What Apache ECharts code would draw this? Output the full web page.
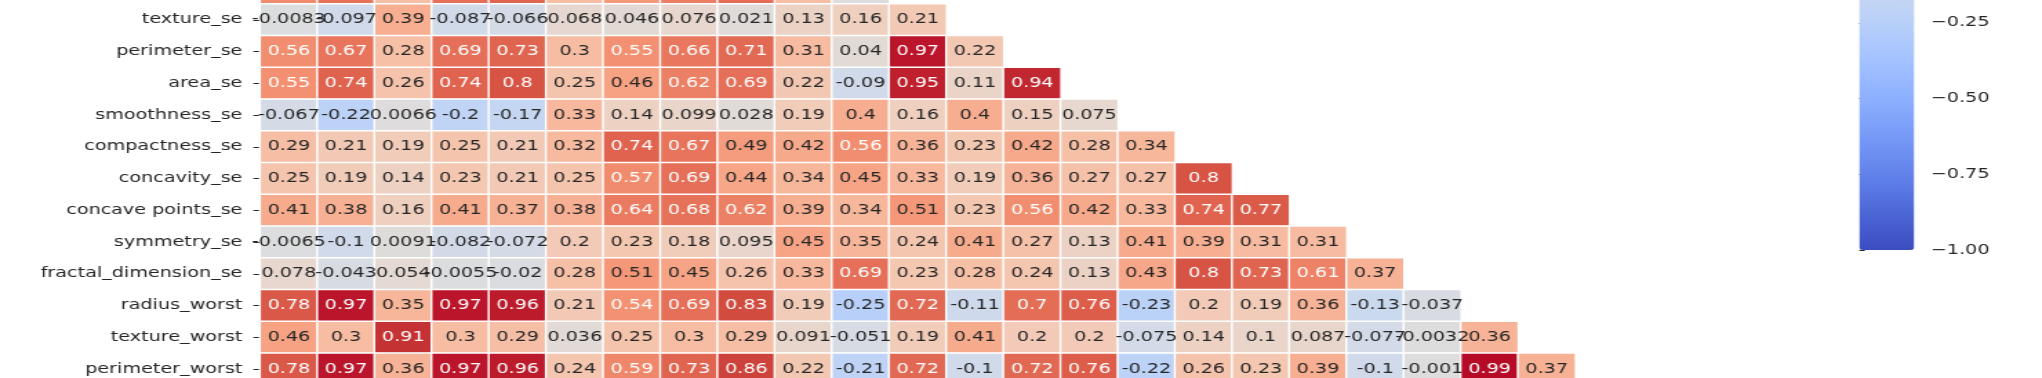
<!DOCTYPE html>
<html>
<head>
<meta charset="utf-8">
<script src="https://cdn.jsdelivr.net/npm/echarts@6/dist/echarts.min.js"></script>
<style>
  html, body { margin: 0; padding: 0; background: #ffffff; overflow: hidden; }
  #wrap { width: 2042px; height: 378px; overflow: hidden; position: relative; }
  #chart { width: 1480px; height: 378px; transform: scaleX(1.3797); transform-origin: 0 0; }
</style>
</head>
<body>
<div id="wrap"><div id="chart"></div></div>
<script>
// ---- data (lower-triangle correlations, '.2g' as printed) ----
const features = ['diagnosis','radius_mean','texture_mean','perimeter_mean','area_mean',
  'smoothness_mean','compactness_mean','concavity_mean','concave points_mean','symmetry_mean',
  'fractal_dimension_mean','radius_se','texture_se','perimeter_se','area_se','smoothness_se',
  'compactness_se','concavity_se','concave points_se','symmetry_se','fractal_dimension_se',
  'radius_worst','texture_worst','perimeter_worst'];
const columns = features.slice(0, 23);
const rowNames = features.slice(11, 24);

const radius_se = [0.57, 0.68, 0.28, 0.69, 0.73, 0.3, 0.5, 0.63, 0.7, 0.3, 0.00011];
const texture_se = [-0.0083, -0.097, 0.39, -0.087, -0.066, 0.068, 0.046, 0.076, 0.021, 0.13, 0.16, 0.21];
const perimeter_se = [0.56, 0.67, 0.28, 0.69, 0.73, 0.3, 0.55, 0.66, 0.71, 0.31, 0.04, 0.97, 0.22];
const area_se = [0.55, 0.74, 0.26, 0.74, 0.8, 0.25, 0.46, 0.62, 0.69, 0.22, -0.09, 0.95, 0.11, 0.94];
const smoothness_se = [-0.067, -0.22, 0.0066, -0.2, -0.17, 0.33, 0.14, 0.099, 0.028, 0.19, 0.4, 0.16, 0.4, 0.15, 0.075];
const compactness_se = [0.29, 0.21, 0.19, 0.25, 0.21, 0.32, 0.74, 0.67, 0.49, 0.42, 0.56, 0.36, 0.23, 0.42, 0.28, 0.34];
const concavity_se = [0.25, 0.19, 0.14, 0.23, 0.21, 0.25, 0.57, 0.69, 0.44, 0.34, 0.45, 0.33, 0.19, 0.36, 0.27, 0.27, 0.8];
const concave_points_se = [0.41, 0.38, 0.16, 0.41, 0.37, 0.38, 0.64, 0.68, 0.62, 0.39, 0.34, 0.51, 0.23, 0.56, 0.42, 0.33, 0.74, 0.77];
const symmetry_se = [-0.0065, -0.1, 0.0091, -0.082, -0.072, 0.2, 0.23, 0.18, 0.095, 0.45, 0.35, 0.24, 0.41, 0.27, 0.13, 0.41, 0.39, 0.31, 0.31];
const fractal_dimension_se = [0.078, -0.043, 0.054, -0.0055, -0.02, 0.28, 0.51, 0.45, 0.26, 0.33, 0.69, 0.23, 0.28, 0.24, 0.13, 0.43, 0.8, 0.73, 0.61, 0.37];
const radius_worst = [0.78, 0.97, 0.35, 0.97, 0.96, 0.21, 0.54, 0.69, 0.83, 0.19, -0.25, 0.72, -0.11, 0.7, 0.76, -0.23, 0.2, 0.19, 0.36, -0.13, -0.037];
const texture_worst = [0.46, 0.3, 0.91, 0.3, 0.29, 0.036, 0.25, 0.3, 0.29, 0.091, -0.051, 0.19, 0.41, 0.2, 0.2, -0.075, 0.14, 0.1, 0.087, -0.077, -0.0032, 0.36];
const perimeter_worst = [0.78, 0.97, 0.36, 0.97, 0.96, 0.24, 0.59, 0.73, 0.86, 0.22, -0.21, 0.72, -0.1, 0.72, 0.76, -0.22, 0.26, 0.23, 0.39, -0.1, -0.001, 0.99, 0.37];

const rows = [radius_se, texture_se, perimeter_se, area_se, smoothness_se, compactness_se,
  concavity_se, concave_points_se, symmetry_se, fractal_dimension_se, radius_worst,
  texture_worst, perimeter_worst];

const cbarTicks = [-1, -0.75, -0.5, -0.25, 0, 0.25, 0.5, 0.75, 1];

// ---- style ----
const coolwarm = [
  [59,76,192],[68,90,204],[77,104,215],[87,117,225],[98,130,234],[108,142,241],[119,154,247],
  [130,165,251],[141,176,254],[152,185,255],[163,194,255],[174,201,253],[184,208,249],
  [194,213,244],[204,217,238],[213,219,230],[221,221,221],[229,216,209],[236,211,197],
  [241,204,185],[245,196,173],[247,187,160],[247,177,148],[247,166,135],[244,154,123],
  [241,141,111],[236,127,99],[229,112,88],[222,96,77],[213,80,66],[203,62,56],[192,40,47],[180,4,38]];
const cwHex = coolwarm.map(c => '#' + c.map(v => v.toString(16).padStart(2, '0')).join(''));

function cmap(v) {
  const t = Math.min(1, Math.max(0, (v + 1) / 2)) * (coolwarm.length - 1);
  const i = Math.min(coolwarm.length - 2, Math.floor(t));
  const f = t - i;
  return coolwarm[i].map((c, k) => c + (coolwarm[i + 1][k] - c) * f);
}
function lum(rgb) {
  const l = rgb.map(c => { c = c / 255; return c <= 0.03928 ? c / 12.92 : Math.pow((c + 0.055) / 1.055, 2.4); });
  return 0.2126 * l[0] + 0.7152 * l[1] + 0.0722 * l[2];
}
const FONT = 'DejaVu Sans';
const FS = 13.9;
const DARK = '#262626';

const data = [];
rows.forEach((vals, r) => {
  vals.forEach((v, c) => {
    data.push({ value: [c, r, v], label: { color: lum(cmap(v)) > 0.408 ? DARK : '#ffffff' } });
  });
});

const colW = 41.44, rowH = 31.75;
const gridLeft = 188.66, gridTop = 4 - rowH;
const cbLeft = 1347.6, cbW = 39.8, cbBottom = 250, cbH = 606;

const chart = echarts.init(document.getElementById('chart'), null, { renderer: 'canvas', width: 1480, height: 378 });
chart.setOption({
  animation: false,
  backgroundColor: '#ffffff',
  grid: [
    { left: gridLeft, top: gridTop, width: colW * columns.length, height: rowH * rowNames.length,
      containLabel: false, outerBoundsMode: 'none' },
    { left: cbLeft, top: cbBottom - cbH, width: cbW, height: cbH,
      containLabel: false, outerBoundsMode: 'none' }
  ],
  xAxis: [
    { type: 'category', data: columns, gridIndex: 0, show: false },
    { type: 'value', gridIndex: 1, show: false, min: 0, max: 1 }
  ],
  yAxis: [
    {
      type: 'category', data: rowNames, gridIndex: 0, inverse: true,
      axisLine: { show: false },
      axisTick: { show: true, alignWithLabel: true, length: 5, lineStyle: { color: DARK, width: 1 } },
      axisLabel: { margin: 13, fontFamily: FONT, fontSize: FS, color: DARK },
      splitLine: { show: false }
    },
    {
      type: 'value', gridIndex: 1, position: 'right', min: -1, max: 1, interval: 0.25,
      axisLine: { show: false },
      axisTick: { show: true, length: 4, lineStyle: { color: DARK, width: 1 } },
      axisLabel: {
        margin: 12, fontFamily: FONT, fontSize: FS, color: DARK,
        formatter: v => cbarTicks.includes(v) ? v.toFixed(2).replace('-', '\u2212') : ''
      },
      splitLine: { show: false }
    }
  ],
  visualMap: {
    type: 'continuous', min: -1, max: 1, dimension: 2, seriesIndex: 0,
    calculable: false, orient: 'vertical', padding: 0,
    left: cbLeft, top: cbBottom - cbH, itemWidth: cbW, itemHeight: cbH,
    inRange: { color: cwHex }, text: null, hoverLink: false
  },
  series: [{
    type: 'heatmap', xAxisIndex: 0, yAxisIndex: 0, data: data,
    itemStyle: { borderColor: '#ffffff', borderWidth: 1.4 },
    label: {
      show: true, fontFamily: FONT, fontSize: FS,
      formatter: p => String(p.value[2])
    },
    emphasis: { disabled: true }
  }]
});
</script>
</body>
</html>
